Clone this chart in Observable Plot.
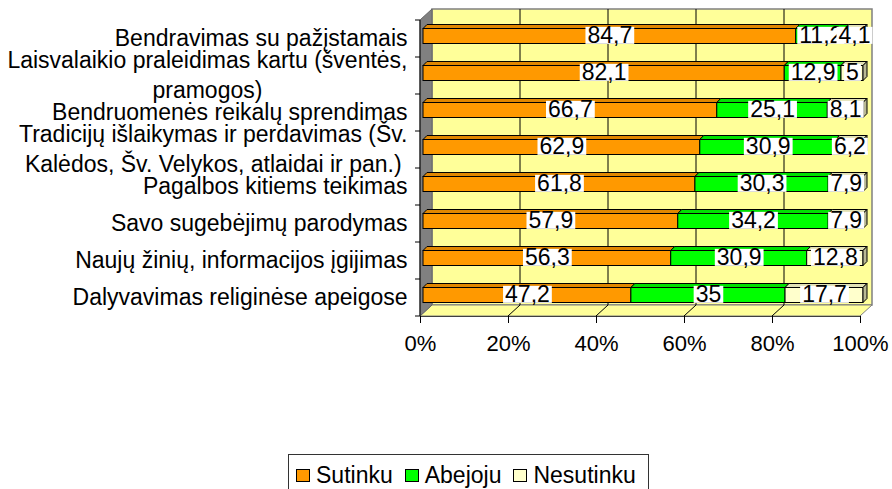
<!DOCTYPE html>
<html><head><meta charset="utf-8">
<script src="https://cdn.jsdelivr.net/npm/d3@7"></script>
<script src="https://cdn.jsdelivr.net/npm/@observablehq/plot@0.6"></script>
<style>
html,body{margin:0;padding:0;background:#fff;overflow:hidden;}
body{width:892px;height:489px;position:relative;font-family:"Liberation Sans",Arial,sans-serif;}
#chart{position:absolute;left:0;top:0;}
#legend{position:absolute;left:288px;top:454px;width:361px;height:40px;border:1px solid #333;background:#fff;
  display:flex;align-items:flex-start;padding-top:9px;box-sizing:border-box;font-size:23px;line-height:23px;color:#000;}
#legend .item{display:flex;align-items:center;margin-left:7px;margin-right:5px;}
#legend .sw{width:14px;height:13px;border:1px solid #000;margin-right:6px;box-sizing:border-box;}
</style></head><body>
<div id="chart"></div>
<div id="legend"></div>
<script>
// ---- data ----
const categories = [
  "Bendravimas su pažįstamais",
  "Laisvalaikio praleidimas kartu (šventės, pramogos)",
  "Bendruomenės reikalų sprendimas",
  "Tradicijų išlaikymas ir perdavimas (Šv. Kalėdos, Šv. Velykos, atlaidai ir pan.)",
  "Pagalbos kitiems teikimas",
  "Savo sugebėjimų parodymas",
  "Naujų žinių, informacijos įgijimas",
  "Dalyvavimas religinėse apeigose"
];
const tickLabels = [
  "Bendravimas su pažįstamais",
  "Laisvalaikio praleidimas kartu (šventės,\npramogos)",
  "Bendruomenės reikalų sprendimas",
  "Tradicijų išlaikymas ir perdavimas (Šv.\nKalėdos, Šv. Velykos, atlaidai ir pan.)",
  "Pagalbos kitiems teikimas",
  "Savo sugebėjimų parodymas",
  "Naujų žinių, informacijos įgijimas",
  "Dalyvavimas religinėse apeigose"
];
const series = ["Sutinku", "Abejoju", "Nesutinku"];
const sutinku   = [84.7, 82.1, 66.7, 62.9, 61.8, 57.9, 56.3, 47.2];
const abejoju   = [11.2, 12.9, 25.1, 30.9, 30.3, 34.2, 30.9, 35];
const nesutinku = [4.1, 5, 8.1, 6.2, 7.9, 7.9, 12.8, 17.7];
const colors = ["#FF9900", "#00FF00", "#FFFFCC"];
const xTicks = [0, 20, 40, 60, 80, 100];

// ---- build ----
const seriesValues = [sutinku, abejoju, nesutinku];
const rows = categories.flatMap((c, i) => series.map((s, j) => ({category: c, series: s, value: seriesValues[j][i]})));
const fmt = v => String(v).replace(".", ",");
const FS = 23;
const FONT = '"Liberation Sans", Arial, sans-serif';

const ctx = document.createElement("canvas").getContext("2d");
ctx.font = `${FS}px ${FONT}`;
const labelMarks = categories.map((c, i) => {
  const lines = tickLabels[i].split("\n");
  const w = Math.max(...lines.map(l => ctx.measureText(l).width));
  return Plot.text([c], {
    y: d => d, frameAnchor: "left", text: () => tickLabels[i],
    textAnchor: "middle", dx: -(13 + w / 2), dy: -3, lineHeight: 1.3, fontSize: FS, fill: "#000"
  });
});

const plot = Plot.plot({
  width: 892, height: 448,
  marginLeft: 420, marginRight: 32, marginTop: 20, marginBottom: 132,
  style: {fontFamily: FONT, fontSize: "22px", background: "transparent", color: "#000", overflow: "visible"},
  x: {domain: [0, 1], ticks: xTicks.map(t => t / 100), tickFormat: d => Math.round(d * 100) + "%",
      tickSize: 7, tickPadding: 12, line: true, label: null},
  y: {domain: categories, padding: 0, axis: null},
  color: {domain: series, range: colors},
  marks: [
    Plot.barX(rows, Plot.stackX({offset: "normalize", x: "value", y: "category", fill: "series",
      stroke: "#000", strokeWidth: 1, insetTop: 8.5, insetBottom: 13.5, dx: 3})),
    Plot.text(rows, Plot.stackX({offset: "normalize", x: "value", y: "category", text: d => fmt(d.value),
      fontSize: FS, dx: 3, dy: -3, fill: "#000", ariaDescription: "values"})),
    ...labelMarks
  ]
});
document.getElementById("chart").appendChild(plot);

// ---- 3D decorations using the plot's scales ----
const sx = plot.scale("x"), sy = plot.scale("y");
const X = v => sx.apply(v);
const yTop = sy.range[0], yBot = sy.range[1];
const step = (yBot - yTop) / categories.length;
const DX = 12, DY = -11;
const svg = d3.select(plot);
const deco = svg.insert("g", "g");
const pts = a => a.map(p => p.join(",")).join(" ");
// back wall
deco.append("polygon").attr("points", pts([[X(0)+DX, yTop+DY], [X(1)+DX, yTop+DY], [X(1)+DX, yBot+DY], [X(0)+DX, yBot+DY]]))
  .attr("fill", "#FFFF99").attr("stroke", "#808080").attr("stroke-width", 1.5);
// floor
deco.append("polygon").attr("points", pts([[X(0), yBot], [X(1), yBot], [X(1)+DX, yBot+DY], [X(0)+DX, yBot+DY]]))
  .attr("fill", "#FFFF99").attr("stroke", "#808080").attr("stroke-width", 1);
// grid lines
xTicks.slice(1, -1).forEach(t => {
  const px = X(t / 100);
  deco.append("line").attr("x1", px+DX).attr("x2", px+DX).attr("y1", yTop+DY).attr("y2", yBot+DY).attr("stroke", "#000");
  deco.append("line").attr("x1", px).attr("x2", px+DX).attr("y1", yBot).attr("y2", yBot+DY).attr("stroke", "#000");
});
// left wall
deco.append("polygon").attr("points", pts([[X(0), yTop], [X(0)+DX, yTop+DY], [X(0)+DX, yBot+DY], [X(0), yBot]]))
  .attr("fill", "#808080").attr("stroke", "#666");
// category axis
deco.append("line").attr("x1", X(0)).attr("x2", X(0)).attr("y1", yTop).attr("y2", yBot).attr("stroke", "#000");
d3.range(categories.length + 1).forEach(k => {
  const yy = yTop + k * step;
  deco.append("line").attr("x1", X(0) - 5).attr("x2", X(0)).attr("y1", yy).attr("y2", yy).attr("stroke", "#000");
});

// bar top & side faces
const D = 4;
const xEnd = X(1);
svg.selectAll('g[aria-label="bar"] rect').each(function() {
  const r = d3.select(this);
  const x = +r.attr("x"), y = +r.attr("y"), w = +r.attr("width"), h = +r.attr("height");
  const c = d3.color(r.attr("fill"));
  const g = d3.select(this.parentNode);
  g.append("polygon").attr("points", pts([[x, y], [x+D, y-D], [x+w+D, y-D], [x+w, y]]))
    .attr("fill", c.darker(0.35).formatHex());
  if (x + w >= xEnd - 1) {
    g.append("polygon").attr("points", pts([[x+w, y], [x+w+D, y-D], [x+w+D, y+h-D], [x+w, y+h]]))
      .attr("fill", c.darker(0.9).formatHex());
  }
});

// white boxes behind value labels
let valueGroup = svg.select('g[aria-description="values"]');
if (valueGroup.empty()) valueGroup = d3.select(svg.selectAll('g[aria-label="text"]').nodes()[0]);
valueGroup.selectAll("text").each(function() {
  const b = this.getBBox();
  const cy = b.y + b.height / 2;
  const rect = document.createElementNS("http://www.w3.org/2000/svg", "rect");
  rect.setAttribute("x", b.x - 2);
  rect.setAttribute("y", cy - 8.5);
  rect.setAttribute("width", b.width + 4);
  rect.setAttribute("height", 17);
  rect.setAttribute("fill", "#fff");
  rect.setAttribute("stroke", "none");
  const tf = this.getAttribute("transform");
  if (tf) rect.setAttribute("transform", tf);
  this.parentNode.insertBefore(rect, this);
});

// legend
const legend = d3.select("#legend");
series.forEach((s, i) => {
  const it = legend.append("div").attr("class", "item");
  it.append("div").attr("class", "sw").style("background", colors[i]);
  it.append("span").text(s);
});
</script>
</body></html>
